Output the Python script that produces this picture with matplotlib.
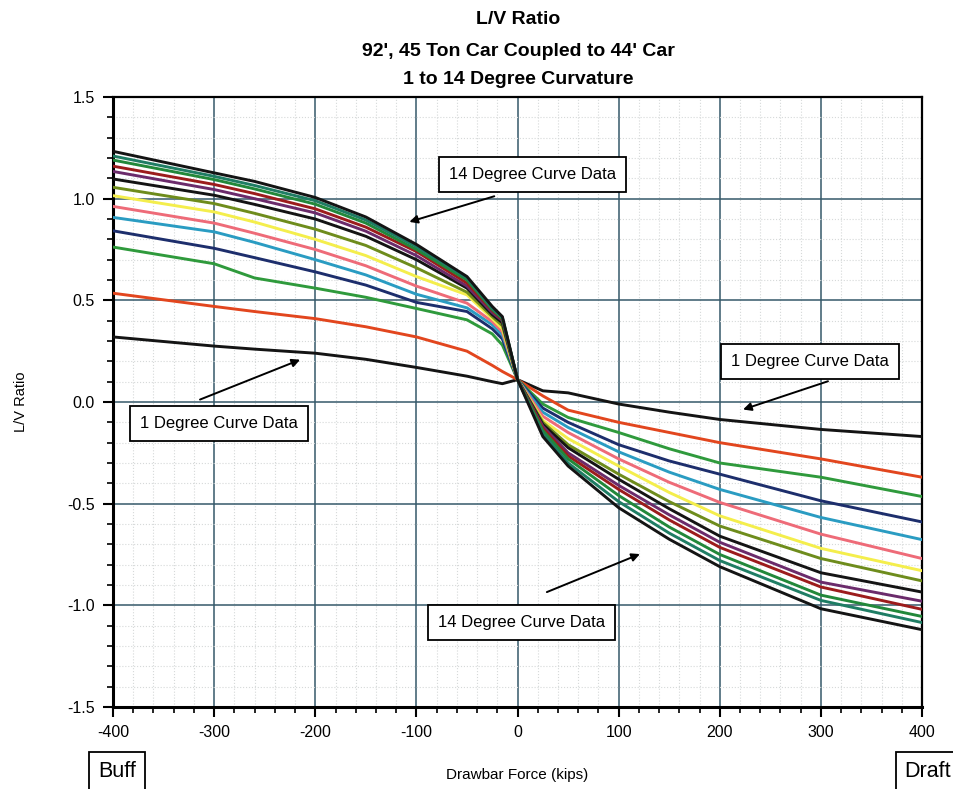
import numpy as np
import matplotlib.pyplot as plt
from matplotlib.ticker import MultipleLocator

plt.rcParams['font.family'] = ['Liberation Sans', 'DejaVu Sans']
plt.rcParams['axes.unicode_minus'] = False

# drawbar force (kips), negative = buff, positive = draft
force = [-400, -300, -260, -200, -150, -100, -50, -25, -15, 0, 25, 50, 100, 150, 200, 300, 400]

# L/V ratio, one list per curvature (1 to 14 degree)
lv_1deg = [0.32, 0.275, 0.26, 0.24, 0.21, 0.17, 0.127, 0.10, 0.09, 0.11, 0.055, 0.045, -0.01, -0.05, -0.086, -0.135, -0.17]
lv_2deg = [0.535, 0.47, 0.445, 0.41, 0.37, 0.32, 0.25, 0.18, 0.15, 0.11, 0.03, -0.04, -0.10, -0.15, -0.20, -0.28, -0.37]
lv_3deg = [0.762, 0.68, 0.61, 0.56, 0.515, 0.46, 0.404, 0.335, 0.28, 0.11, -0.01, -0.076, -0.15, -0.23, -0.30, -0.37, -0.465]
lv_4deg = [0.842, 0.756, 0.71, 0.64, 0.575, 0.49, 0.445, 0.36, 0.31, 0.11, -0.03, -0.10, -0.21, -0.29, -0.355, -0.486, -0.59]
lv_5deg = [0.908, 0.837, 0.785, 0.70, 0.625, 0.53, 0.463, 0.38, 0.33, 0.11, -0.05, -0.125, -0.245, -0.345, -0.43, -0.568, -0.677]
lv_6deg = [0.962, 0.88, 0.83, 0.75, 0.67, 0.57, 0.486, 0.395, 0.345, 0.11, -0.07, -0.15, -0.28, -0.395, -0.494, -0.65, -0.77]
lv_7deg = [1.015, 0.935, 0.885, 0.80, 0.72, 0.617, 0.527, 0.41, 0.36, 0.11, -0.09, -0.18, -0.315, -0.445, -0.56, -0.72, -0.83]
lv_8deg = [1.056, 0.976, 0.928, 0.85, 0.77, 0.66, 0.54, 0.42, 0.375, 0.11, -0.10, -0.21, -0.355, -0.49, -0.61, -0.77, -0.88]
lv_9deg = [1.097, 1.017, 0.972, 0.90, 0.815, 0.70, 0.56, 0.43, 0.39, 0.11, -0.11, -0.225, -0.38, -0.525, -0.66, -0.84, -0.935]
lv_10deg = [1.134, 1.045, 1.00, 0.93, 0.84, 0.72, 0.57, 0.44, 0.40, 0.11, -0.12, -0.25, -0.41, -0.555, -0.69, -0.886, -0.98]
lv_11deg = [1.16, 1.07, 1.025, 0.95, 0.86, 0.74, 0.585, 0.45, 0.405, 0.11, -0.13, -0.265, -0.43, -0.58, -0.715, -0.91, -1.02]
lv_12deg = [1.19, 1.094, 1.048, 0.973, 0.88, 0.75, 0.60, 0.455, 0.41, 0.11, -0.14, -0.28, -0.46, -0.615, -0.75, -0.95, -1.055]
lv_13deg = [1.21, 1.11, 1.065, 0.99, 0.895, 0.764, 0.61, 0.46, 0.415, 0.11, -0.155, -0.30, -0.49, -0.645, -0.78, -0.976, -1.085]
lv_14deg = [1.233, 1.127, 1.085, 1.006, 0.91, 0.775, 0.617, 0.47, 0.42, 0.11, -0.17, -0.315, -0.52, -0.675, -0.81, -1.017, -1.12]

curves = [lv_1deg, lv_2deg, lv_3deg, lv_4deg, lv_5deg, lv_6deg, lv_7deg,
          lv_8deg, lv_9deg, lv_10deg, lv_11deg, lv_12deg, lv_13deg, lv_14deg]
colors = ['#141414', '#e2461e', '#2f9a3c', '#1d2e6c', '#2a9cc2', '#ee6b78', '#f4ee4c',
          '#6e8c1c', '#141414', '#6b2b6b', '#9c1c1c', '#22883a', '#1f7d64', '#141414']

fig = plt.figure(figsize=(9.54, 7.89), dpi=100)
ax = fig.add_axes([0.1185, 0.104, 0.848, 0.773])

for lv, c in zip(curves, colors):
    ax.plot(force, lv, color=c, lw=2.1, zorder=3, solid_joinstyle='round')

ax.set_xlim(-400, 400)
ax.set_ylim(-1.5, 1.5)
ax.xaxis.set_minor_locator(MultipleLocator(20))
ax.yaxis.set_minor_locator(MultipleLocator(0.1))
ax.set_xticks(np.arange(-400, 401, 100))
ax.set_xticklabels([str(v) for v in range(-400, 401, 100)])
ax.set_yticks(np.arange(-1.5, 1.51, 0.5))
ax.set_yticklabels(['%.1f' % v for v in np.arange(-1.5, 1.51, 0.5)])

ax.grid(which='major', color='#35596a', lw=1.1, zorder=1)
ax.grid(which='minor', color='#d6d9d9', lw=0.8, ls=':', zorder=0)
ax.tick_params(which='major', length=7, width=1.5, labelsize=11.5, direction='out', pad=6)
ax.tick_params(which='minor', length=4.5, width=1.2, direction='out')
for side in ['left', 'bottom']:
    ax.spines[side].set_linewidth(2.2)
for side in ['top', 'right']:
    ax.spines[side].set_linewidth(1.6)

ax.set_ylabel('L/V Ratio', fontsize=10.5, labelpad=28)
ax.set_xlabel('Drawbar Force (kips)', fontsize=11, labelpad=20)

title_kw = dict(ha='center', va='center', fontsize=14, fontweight='bold')
fig.text(0.543, 0.975, 'L/V Ratio', **title_kw)
fig.text(0.543, 0.935, "92', 45 Ton Car Coupled to 44' Car", **title_kw)
fig.text(0.543, 0.899, '1 to 14 Degree Curvature', **title_kw)

box = dict(boxstyle='square,pad=0.6', fc='white', ec='black', lw=1.3)
arrow = dict(arrowstyle='-|>', color='black', lw=1.4, mutation_scale=12, shrinkA=0, shrinkB=0)

ax.text(15, 1.12, '14 Degree Curve Data', ha='center', va='center', fontsize=12, bbox=box, zorder=5)
ax.annotate('', xy=(-107, 0.886), xytext=(-23, 1.012), arrowprops=arrow, zorder=5)

ax.text(-295, -0.105, '1 Degree Curve Data', ha='center', va='center', fontsize=12, bbox=box, zorder=5)
ax.annotate('', xy=(-215, 0.208), xytext=(-314, 0.012), arrowprops=arrow, zorder=5)

ax.text(289, 0.2, '1 Degree Curve Data', ha='center', va='center', fontsize=12, bbox=box, zorder=5)
ax.annotate('', xy=(223, -0.037), xytext=(307, 0.102), arrowprops=arrow, zorder=5)

ax.text(4, -1.086, '14 Degree Curve Data', ha='center', va='center', fontsize=12, bbox=box, zorder=5)
ax.annotate('', xy=(121, -0.748), xytext=(29, -0.935), arrowprops=arrow, zorder=5)

side_box = dict(boxstyle='square,pad=0.4', fc='white', ec='black', lw=1.3)
fig.text(0.1226, 0.0228, 'Buff', ha='center', va='center', fontsize=15.5, bbox=side_box)
fig.text(0.9725, 0.0228, 'Draft', ha='center', va='center', fontsize=15.5, bbox=side_box)

fig.savefig('out.png', dpi=100)
